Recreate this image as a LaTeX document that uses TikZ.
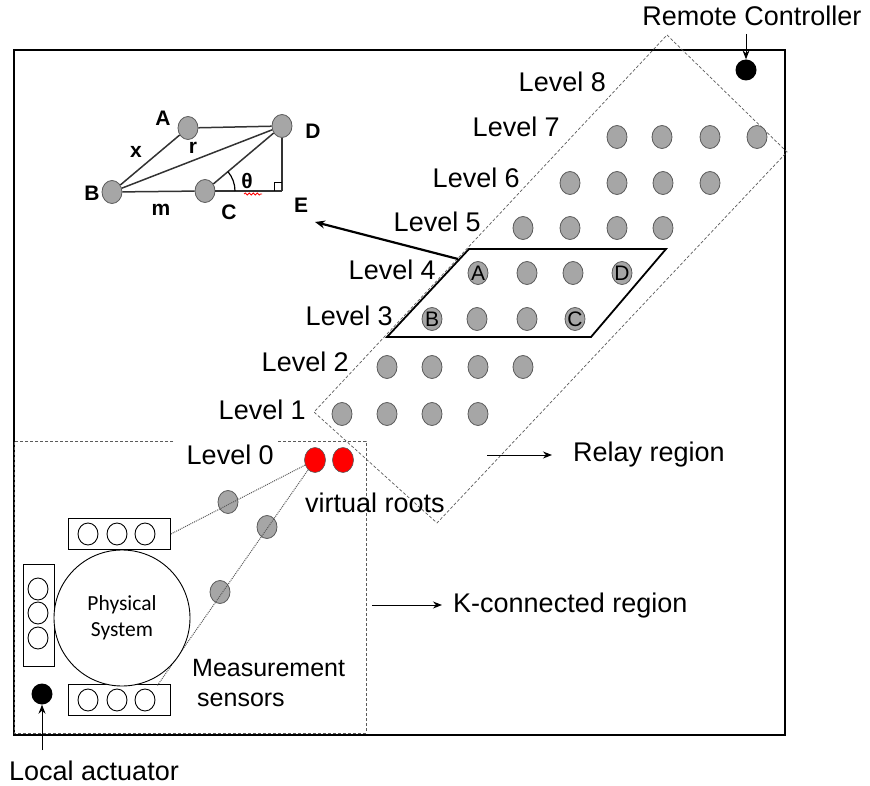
\documentclass[tikz,border=0pt]{standalone}
\usepackage{fontspec}
\setmainfont{Liberation Sans}
\newfontfamily\calib{Carlito}
\usetikzlibrary{shapes.geometric,arrows.meta,decorations.pathmorphing}
\definecolor{dotgray}{RGB}{166,166,166}
\definecolor{dotedge}{RGB}{90,90,90}
\definecolor{dashgray}{RGB}{90,90,90}
\begin{document}
\begin{tikzpicture}[x=1pt,y=-1pt,
  gdot/.style={ellipse,minimum width=20pt,minimum height=23pt,inner sep=0pt,fill=dotgray,draw=dotedge,line width=0.8pt},
  rdot/.style={ellipse,minimum width=21pt,minimum height=25pt,inner sep=0pt,fill=red,draw=dotedge,line width=0.6pt},
  bdot/.style={circle,minimum size=21pt,inner sep=0pt,fill=black},
  sdot/.style={ellipse,minimum width=20pt,minimum height=22pt,inner sep=0pt,draw=black,line width=0.9pt,fill=white},
  lvl/.style={anchor=east,font=\fontsize{27}{30}\selectfont,inner sep=0pt},
  lbl/.style={font=\fontsize{27}{30}\selectfont,inner sep=0pt},
  ilbl/.style={font=\bfseries\fontsize{21}{24}\selectfont,inner sep=0pt},
  onlbl/.style={font=\fontsize{21}{24}\selectfont,inner sep=0pt},
  arr/.style={-{Stealth[length=9pt,width=7pt]},line width=1pt},
  sbox/.style={rectangle,draw=black,line width=0.8pt,minimum width=102pt,minimum height=31pt,inner sep=0pt},
  dl/.style={densely dotted,line width=1pt,draw=dotedge},
  dsh/.style={dashed,line width=0.7pt,draw=dashgray,dash pattern=on 3pt off 2pt},
  ln/.style={line width=1.5pt,draw=black!80},
]
\useasboundingbox (0,0) rectangle (870,786);

% main frame
\draw[line width=1.5pt] (14,50) rectangle (785,735);

% K-connected region
\draw[dsh] (173,441) -- (14,441) -- (14,733) -- (366,733) -- (366,441) -- (277,441);

% relay region
\coordinate (r1) at (667,35);
\coordinate (r2) at (787,152);
\coordinate (r3) at (437,523);
\coordinate (r4) at (314,412);
\draw[dsh] (r1) -- (r2) -- (r3) -- (r4) -- cycle;

% level dots
\foreach \r/\yy/\xs in {1/414/{342,387,432,478},2/367/{387,432,478,523},3/319/{432,477,527,575},4/273/{478,527,573,622},5/228/{523,570,617,663},6/183/{570,617,663,710},7/137/{617,662,710,757}}{
  \foreach \xx [count=\c] in \xs {\node[gdot] (d\r-\c) at (\xx,\yy) {};}
}

% level labels
\node[lvl] (L8) at (606,82) {Level 8};
\node[lvl] (L7) at (560,127) {Level 7};
\node[lvl] (L6) at (520,178) {Level 6};
\node[lvl] (L5) at (481,222) {Level 5};
\node[lvl] (L4) at (436,270) {Level 4};
\node[lvl] (L3) at (393,316) {Level 3};
\node[lvl] (L2) at (349,362) {Level 2};
\node[lvl] (L1) at (306,410) {Level 1};
\node[lvl] (L0) at (274,455) {Level 0};

% parallelogram
\coordinate (p1) at (469,249);
\coordinate (p2) at (666,249);
\coordinate (p3) at (591,337);
\coordinate (p4) at (387,337);
\draw[line width=1.8pt] (p1) -- (p2) -- (p3) -- (p4) -- cycle;

\node[onlbl] (lA) at (d4-1) {A};
\node[onlbl] (lD) at (d4-4) {D};
\node[onlbl] (lB) at (d3-1) {B};
\node[onlbl] (lC) at (d3-4) {C};

% arrow to inset
\coordinate (pA) at (458,259);
\coordinate (pE) at (315,222);
\draw[-{Stealth[length=10pt,width=8pt]},line width=2.2pt] (pA) -- (pE);

% inset
\node[gdot] (iA) at (188,128) {};
\node[gdot] (iD) at (282,126) {};
\node[gdot] (iB) at (112,192) {};
\node[gdot] (iC) at (205,191) {};
\coordinate (iE) at (282,191);
\draw[ln] (iB) -- (iA);
\draw[ln] (iA) -- (iD);
\draw[ln] (iB) -- (iD);
\draw[ln] (iB) -- (iC);
\draw[ln] (iC) -- (iE);
\draw[ln] (iC) -- (iD);
\draw[ln] (iD) -- (iE);
\draw[line width=1pt] (274,191) -- (274,183) -- (282,183);
\draw[line width=1.2pt] ([xshift=30pt]iC.center) arc[start angle=0,end angle=40,radius=30pt];
\draw[red,line width=0.8pt,decorate,decoration={snake,amplitude=1pt,segment length=4pt}] (244,194) -- (262,194);
\node[ilbl] (tA) at (163,118) {A};
\node[ilbl] (tD) at (313,131) {D};
\node[ilbl] (tB) at (92,193) {B};
\node[ilbl] (tE) at (301,205) {E};
\node[ilbl] (tC) at (229,212) {C};
\node[ilbl] (tx) at (136,152) {x};
\node[ilbl] (tr) at (193,148) {r};
\node[ilbl] (tm) at (161,210) {m};
\node[ilbl] (tt) at (247,181) {θ};

% remote controller
\node[lbl] (rcT) at (752,16) {Remote Controller};
\node[bdot] (rc) at (746,70) {};
\coordinate (rcA) at (746,34);
\draw[arr] (rcA) -- (rc);

% relay region label
\node[lbl,anchor=west] (relT) at (573,455) {Relay region};
\coordinate (relA) at (487,455);
\coordinate (relB) at (552,455);
\draw[arr] (relA) -- (relB);

% K-connected label
\node[lbl,anchor=west] (kT) at (453,606) {K-connected region};
\coordinate (kA) at (372,605);
\coordinate (kB) at (442,605);
\draw[arr] (kA) -- (kB);

% virtual roots
\node[rdot] (red1) at (315,460) {};
\node[rdot] (red2) at (343,460) {};
\node[lbl,anchor=west] (vrT) at (305,503) {virtual roots};

% sensor boxes
\node[sbox] (tb) at (119.5,534) {};
\node[sbox] (bb) at (119.5,700) {};
\node[sbox,minimum width=31pt,minimum height=102pt] (lb) at (38.5,615) {};
\foreach \xx [count=\c] in {88,117,145} {
  \node[sdot] (ts\c) at (\xx,534) {};
  \node[sdot] (bs\c) at (\xx,700) {};
}
\foreach \yy [count=\c] in {589,613,638} {
  \node[sdot] (ls\c) at (38,\yy) {};
}

% relays between sensors and roots
\node[gdot] (g1) at (228,502) {};
\node[gdot] (g2) at (267,527) {};
\node[gdot] (g3) at (220,592) {};
\coordinate (lend) at (157,686);
\draw[dl] (tb.east) -- (red1);
\draw[dl] (red1) -- (lend);

% physical system
\node[circle,draw=black,line width=0.9pt,fill=white,minimum size=136pt,inner sep=0pt,align=center,font=\calib\fontsize{21.5}{26}\selectfont] (ps) at (122,618) {Physical\\System};

\node[lbl,anchor=west,font=\fontsize{25}{28}\selectfont] (msT) at (192,668) {Measurement};
\node[lbl,anchor=west,font=\fontsize{25}{28}\selectfont] (snT) at (197,700) {sensors};

% local actuator
\node[bdot] (la) at (42,694) {};
\coordinate (laA) at (42,750);
\draw[arr] (laA) -- (la);
\node[lbl,anchor=west] (laT) at (9,771) {Local actuator};
\end{tikzpicture}
\end{document}
